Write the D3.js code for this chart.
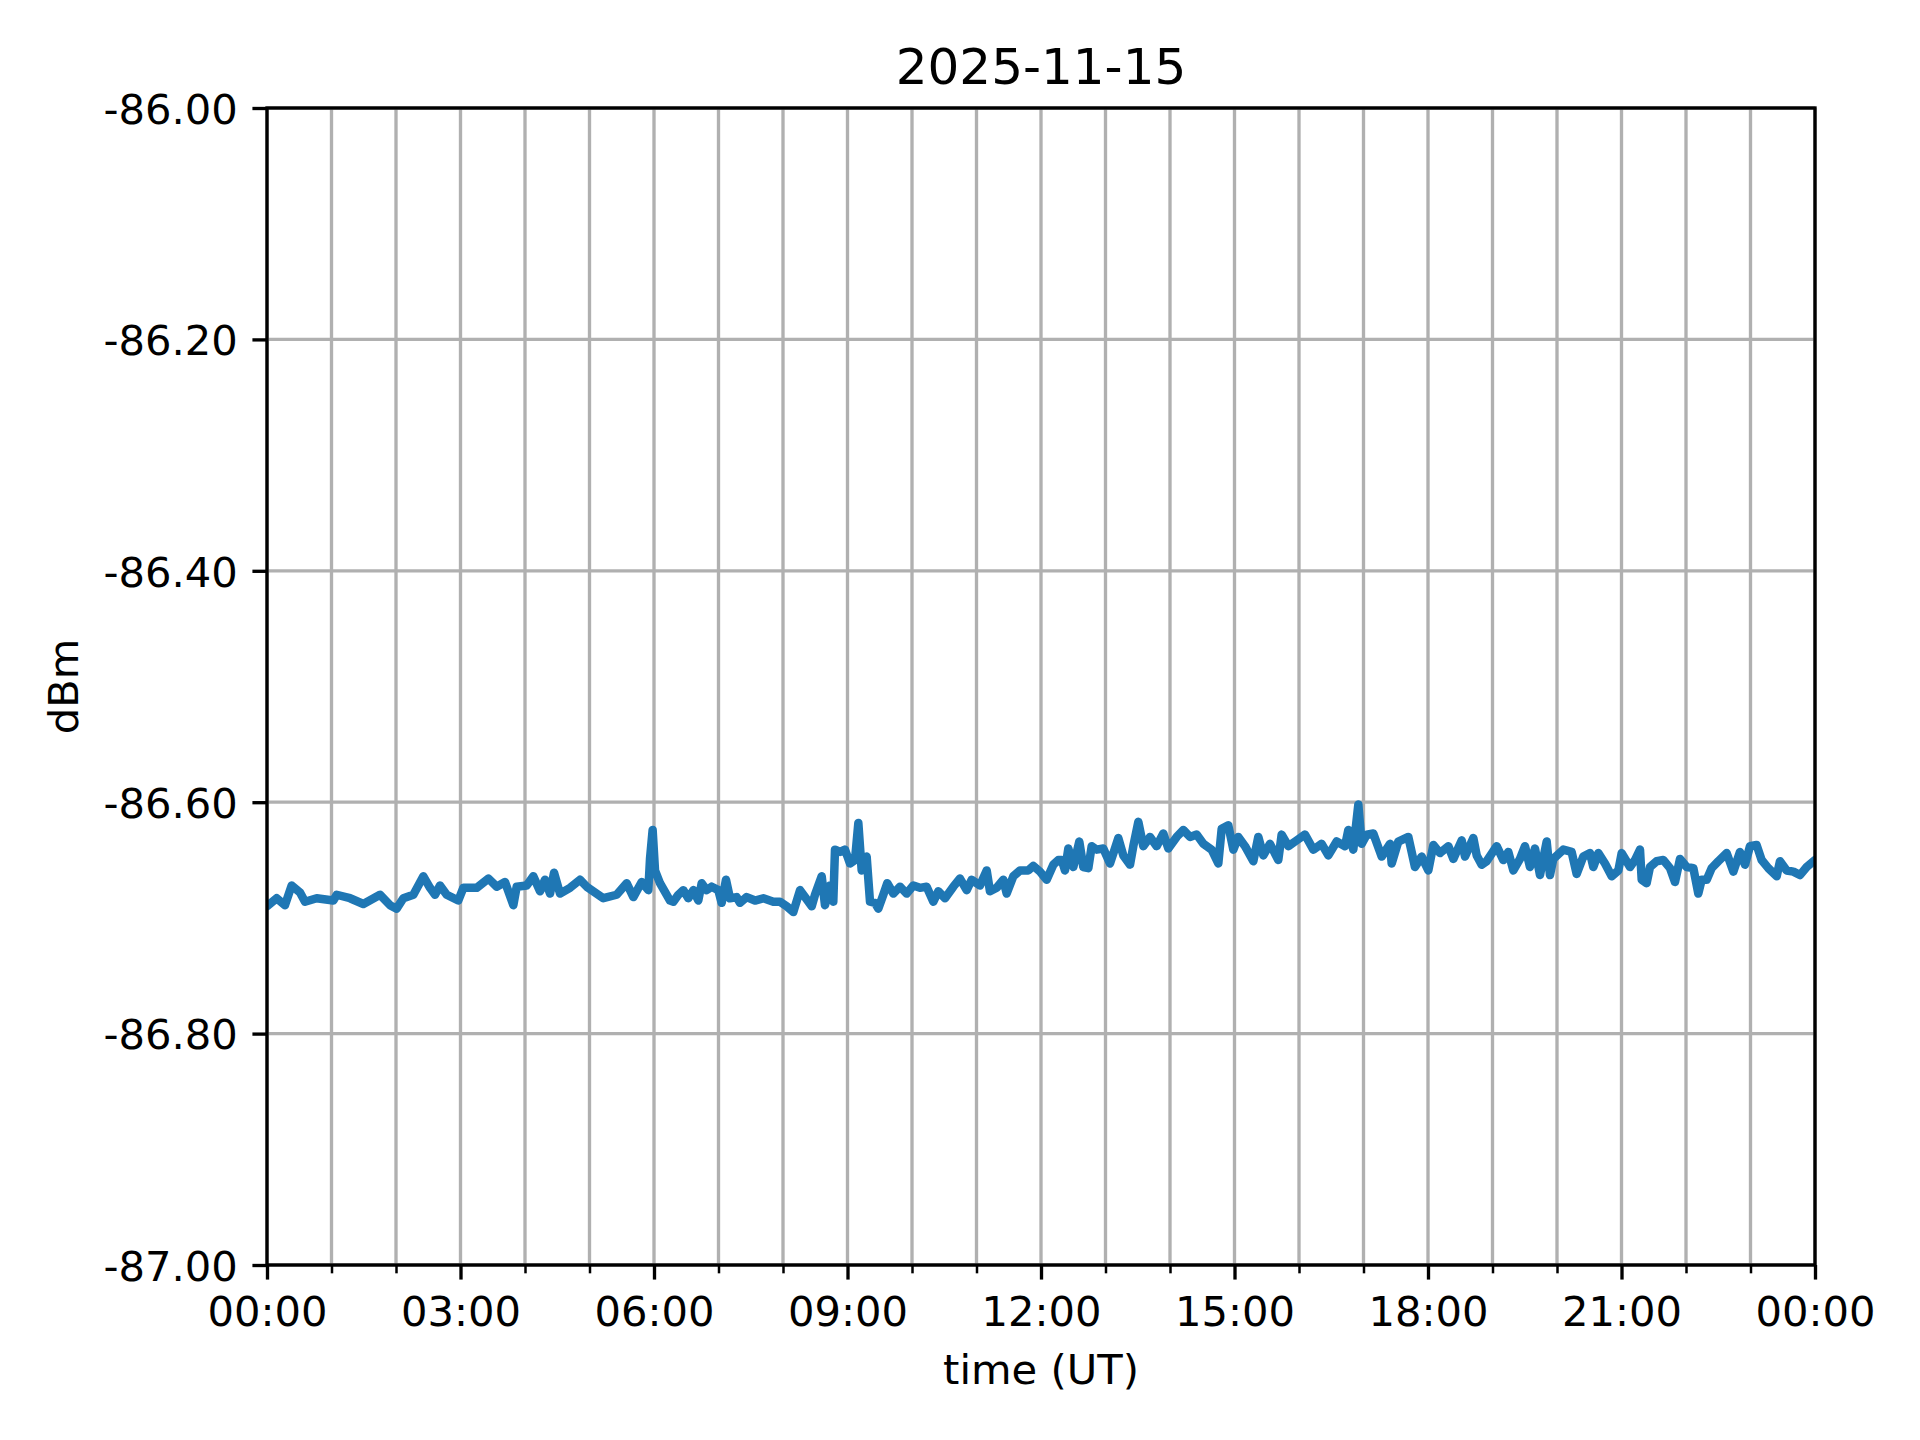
<!DOCTYPE html>
<html>
<head>
<meta charset="utf-8">
<script src="https://cdn.jsdelivr.net/npm/d3@7"></script>
<style>
  html, body { margin: 0; padding: 0; background: #ffffff; }
  svg { display: block; }
  text { font-family: "DejaVu Sans", sans-serif; fill: #000; }
</style>
</head>
<body>
<svg id="chart" width="1920" height="1440"></svg>
<script>
// ---- data ----
const title = "2025-11-15";
const xLabel = "time (UT)";
const yLabel = "dBm";
const yTicks = [-87.0, -86.8, -86.6, -86.4, -86.2, -86.0];
const xMajorHours = [0, 3, 6, 9, 12, 15, 18, 21, 24];
const xMinorHours = [1, 2, 4, 5, 7, 8, 10, 11, 13, 14, 16, 17, 19, 20, 22, 23];

const hours = [
  0.000, 0.150, 0.279, 0.382, 0.512, 0.589, 0.770, 1.028, 1.080, 1.287,
  1.494, 1.752, 1.907, 2.010, 2.114, 2.269, 2.424, 2.527, 2.605, 2.682,
  2.786, 2.966, 3.044, 3.251, 3.432, 3.561, 3.690, 3.819, 3.871, 4.026,
  4.129, 4.233, 4.310, 4.388, 4.450, 4.543, 4.698, 4.853, 4.956, 5.214,
  5.421, 5.576, 5.680, 5.809, 5.912, 5.938, 5.979, 6.016, 6.093, 6.248,
  6.300, 6.377, 6.455, 6.532, 6.610, 6.687, 6.739, 6.817, 6.894, 6.997,
  7.049, 7.116, 7.178, 7.282, 7.333, 7.437, 7.566, 7.695, 7.850, 7.953,
  8.057, 8.160, 8.264, 8.341, 8.445, 8.496, 8.600, 8.651, 8.729, 8.780,
  8.806, 8.884, 8.961, 9.039, 9.116, 9.168, 9.220, 9.297, 9.349, 9.426,
  9.478, 9.555, 9.617, 9.711, 9.814, 9.917, 10.020, 10.124, 10.227, 10.331,
  10.408, 10.512, 10.641, 10.744, 10.848, 10.925, 11.054, 11.158, 11.209, 11.313,
  11.416, 11.468, 11.571, 11.674, 11.803, 11.881, 11.984, 12.088, 12.191, 12.268,
  12.321, 12.372, 12.424, 12.501, 12.594, 12.656, 12.734, 12.786, 12.863, 12.966,
  13.070, 13.199, 13.276, 13.380, 13.431, 13.509, 13.586, 13.690, 13.793, 13.896,
  13.974, 14.103, 14.207, 14.310, 14.413, 14.517, 14.646, 14.749, 14.801, 14.904,
  14.982, 15.059, 15.163, 15.292, 15.369, 15.447, 15.550, 15.679, 15.731, 15.835,
  15.964, 16.093, 16.222, 16.351, 16.455, 16.584, 16.713, 16.765, 16.842, 16.920,
  16.971, 17.049, 17.152, 17.282, 17.411, 17.437, 17.540, 17.695, 17.798, 17.902,
  18.005, 18.083, 18.186, 18.315, 18.393, 18.522, 18.574, 18.703, 18.755, 18.832,
  18.910, 19.065, 19.168, 19.245, 19.323, 19.426, 19.504, 19.581, 19.659, 19.736,
  19.840, 19.891, 19.943, 20.098, 20.227, 20.305, 20.408, 20.512, 20.563, 20.641,
  20.744, 20.848, 20.951, 21.003, 21.132, 21.209, 21.287, 21.313, 21.390, 21.442,
  21.545, 21.648, 21.752, 21.829, 21.907, 22.011, 22.114, 22.191, 22.243, 22.321,
  22.398, 22.501, 22.631, 22.734, 22.837, 22.915, 22.992, 23.095, 23.173, 23.276,
  23.406, 23.457, 23.561, 23.664, 23.767, 23.871, 24.000
];

const dbm = [
  -86.690, -86.683, -86.689, -86.672, -86.678, -86.686, -86.683, -86.685, -86.680, -86.683,
  -86.688, -86.680, -86.689, -86.692, -86.683, -86.680, -86.664, -86.674, -86.680, -86.672,
  -86.680, -86.685, -86.674, -86.674, -86.666, -86.673, -86.669, -86.689, -86.673, -86.672,
  -86.664, -86.677, -86.667, -86.679, -86.661, -86.679, -86.674, -86.667, -86.673, -86.683,
  -86.680, -86.670, -86.682, -86.669, -86.676, -86.649, -86.624, -86.659, -86.670, -86.685,
  -86.686, -86.680, -86.676, -86.683, -86.676, -86.685, -86.670, -86.676, -86.673, -86.676,
  -86.687, -86.667, -86.683, -86.682, -86.687, -86.682, -86.685, -86.683, -86.686, -86.686,
  -86.690, -86.695, -86.676, -86.682, -86.690, -86.680, -86.664, -86.689, -86.672, -86.686,
  -86.641, -86.643, -86.641, -86.653, -86.650, -86.618, -86.659, -86.647, -86.686, -86.687,
  -86.692, -86.680, -86.670, -86.679, -86.673, -86.679, -86.672, -86.674, -86.673, -86.686,
  -86.677, -86.683, -86.673, -86.666, -86.676, -86.667, -86.672, -86.659, -86.677, -86.674,
  -86.667, -86.679, -86.664, -86.659, -86.659, -86.655, -86.660, -86.667, -86.654, -86.650,
  -86.650, -86.659, -86.640, -86.656, -86.634, -86.656, -86.657, -86.638, -86.641, -86.640,
  -86.653, -86.631, -86.646, -86.654, -86.638, -86.617, -86.638, -86.630, -86.638, -86.627,
  -86.640, -86.630, -86.624, -86.630, -86.628, -86.636, -86.641, -86.653, -86.623, -86.620,
  -86.641, -86.630, -86.638, -86.651, -86.630, -86.646, -86.636, -86.650, -86.628, -86.638,
  -86.633, -86.628, -86.641, -86.636, -86.646, -86.634, -86.638, -86.624, -86.641, -86.602,
  -86.636, -86.628, -86.627, -86.647, -86.636, -86.653, -86.634, -86.630, -86.656, -86.647,
  -86.659, -86.637, -86.644, -86.638, -86.649, -86.633, -86.647, -86.631, -86.646, -86.654,
  -86.651, -86.638, -86.650, -86.643, -86.659, -86.649, -86.638, -86.656, -86.640, -86.663,
  -86.634, -86.663, -86.649, -86.641, -86.643, -86.662, -86.647, -86.644, -86.656, -86.644,
  -86.653, -86.664, -86.659, -86.644, -86.656, -86.650, -86.641, -86.667, -86.670, -86.656,
  -86.651, -86.650, -86.657, -86.669, -86.649, -86.656, -86.657, -86.679, -86.667, -86.667,
  -86.657, -86.651, -86.644, -86.660, -86.643, -86.654, -86.638, -86.637, -86.650, -86.657,
  -86.664, -86.651, -86.659, -86.660, -86.663, -86.656, -86.650
];

// ---- layout ----
const W = 1920, H = 1440;
const plot = { left: 267, right: 1815, top: 108, bottom: 1265 };
const PT = 300 / 72;               // matplotlib points -> px at 300 dpi
const fontPx = 10 * PT;
const titlePx = 12 * PT;

const day0 = Date.UTC(2025, 10, 15);
const toDate = h => new Date(day0 + h * 3600e3);

const svg = d3.select("#chart");
svg.append("rect").attr("width", W).attr("height", H).attr("fill", "#fff");

const x = d3.scaleUtc()
  .domain([toDate(0), toDate(24)])
  .range([plot.left, plot.right]);
const y = d3.scaleLinear()
  .domain([-87, -86])
  .range([plot.bottom, plot.top]);

// grid
const grid = svg.append("g").attr("stroke", "#b0b0b0").attr("stroke-width", 0.8 * PT);
grid.selectAll("line.vx")
  .data(xMajorHours.concat(xMinorHours))
  .join("line")
  .attr("x1", h => x(toDate(h))).attr("x2", h => x(toDate(h)))
  .attr("y1", plot.top).attr("y2", plot.bottom);
grid.selectAll("line.hy")
  .data(yTicks)
  .join("line")
  .attr("y1", v => y(v)).attr("y2", v => y(v))
  .attr("x1", plot.left).attr("x2", plot.right);

// data line
svg.append("clipPath").attr("id", "clip")
  .append("rect")
  .attr("x", plot.left).attr("y", plot.top)
  .attr("width", plot.right - plot.left).attr("height", plot.bottom - plot.top);

const pts = hours.map((h, i) => ({ t: toDate(h), v: dbm[i] }));
svg.append("path")
  .datum(pts)
  .attr("clip-path", "url(#clip)")
  .attr("fill", "none")
  .attr("stroke", "#1f77b4")
  .attr("stroke-width", 8.5)
  .attr("stroke-linejoin", "round")
  .attr("stroke-linecap", "round")
  .attr("d", d3.line().x(d => x(d.t)).y(d => y(d.v)));

// axes
const fmtTime = d3.utcFormat("%H:%M");
const xAxis = d3.axisBottom(x)
  .tickValues(xMajorHours.map(toDate))
  .tickFormat(fmtTime)
  .tickSize(3.5 * PT).tickSizeOuter(0).tickPadding(3.5 * PT);
const gx = svg.append("g").attr("transform", `translate(0,${plot.bottom})`).call(xAxis);

const xMinor = d3.axisBottom(x)
  .tickValues(xMinorHours.map(toDate))
  .tickFormat("")
  .tickSize(2 * PT).tickSizeOuter(0);
const gxm = svg.append("g").attr("transform", `translate(0,${plot.bottom})`).call(xMinor);

const yAxis = d3.axisLeft(y)
  .tickValues(yTicks)
  .tickFormat(v => v.toFixed(2))
  .tickSize(3.5 * PT).tickSizeOuter(0).tickPadding(3.5 * PT);
const gy = svg.append("g").attr("transform", `translate(${plot.left},0)`).call(yAxis);

[gx, gxm, gy].forEach(g => {
  g.select(".domain").remove();
  g.attr("font-family", null).attr("font-size", null);
});
gx.selectAll(".tick line").attr("stroke", "#000").attr("stroke-width", 0.8 * PT);
gxm.selectAll(".tick line").attr("stroke", "#000").attr("stroke-width", 0.6 * PT);
gy.selectAll(".tick line").attr("stroke", "#000").attr("stroke-width", 0.8 * PT);
gx.selectAll(".tick text").attr("font-size", fontPx).attr("dy", "0.76em").attr("fill", "#000");
gy.selectAll(".tick text").attr("font-size", fontPx).attr("dy", "0.365em").attr("fill", "#000");

// frame (spines)
svg.append("rect")
  .attr("x", plot.left).attr("y", plot.top)
  .attr("width", plot.right - plot.left).attr("height", plot.bottom - plot.top)
  .attr("fill", "none").attr("stroke", "#000").attr("stroke-width", 0.8 * PT);

// labels
svg.append("text")
  .attr("x", (plot.left + plot.right) / 2).attr("y", 84)
  .attr("text-anchor", "middle").attr("font-size", titlePx)
  .text(title);
svg.append("text")
  .attr("x", (plot.left + plot.right) / 2).attr("y", 1384)
  .attr("text-anchor", "middle").attr("font-size", fontPx)
  .text(xLabel);
svg.append("text")
  .attr("transform", `translate(78,${(plot.top + plot.bottom) / 2}) rotate(-90)`)
  .attr("text-anchor", "middle").attr("font-size", fontPx)
  .text(yLabel);
</script>
</body>
</html>
